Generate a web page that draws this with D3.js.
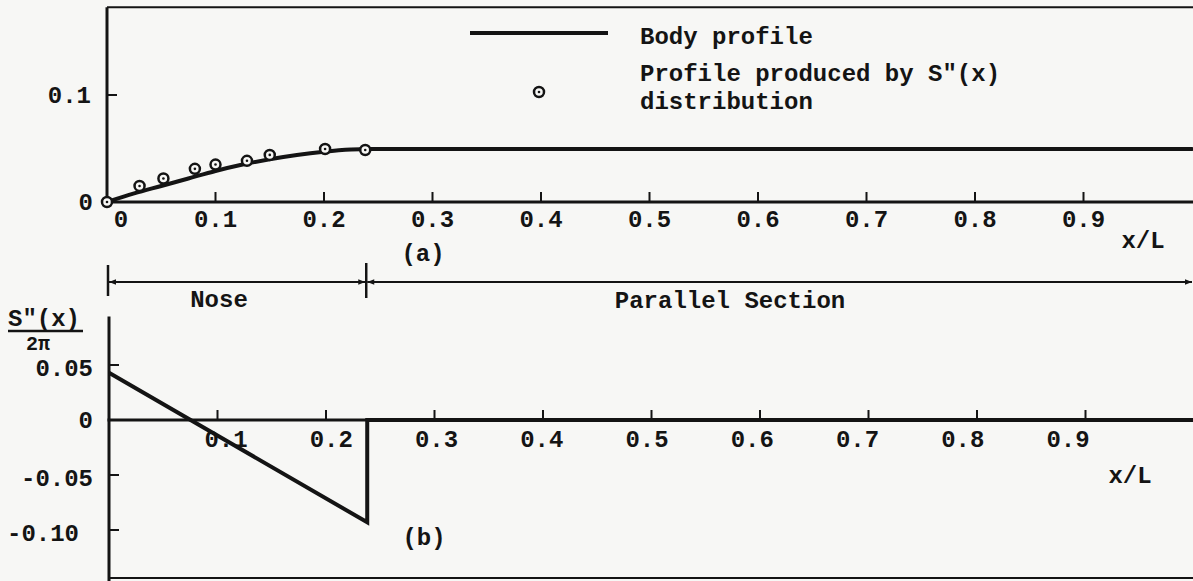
<!DOCTYPE html>
<html>
<head>
<meta charset="utf-8">
<script src="https://cdn.jsdelivr.net/npm/d3@7"></script>
<style>
  body { margin: 0; background: #f7f7f5; }
  svg { display: block; }
  text { font-family: "Liberation Mono", "DejaVu Sans Mono", monospace; font-weight: bold; fill: #141414; font-size: 24px; }
</style>
</head>
<body>
<svg id="chart" width="1193" height="581"></svg>
<script>
// body profile (a)
var bodyX = [0, 0.025, 0.05, 0.075, 0.1, 0.125, 0.15, 0.175, 0.2, 0.225, 0.24, 1.0];
var bodyY = [0, 0.008, 0.015, 0.022, 0.029, 0.035, 0.040, 0.044, 0.047, 0.049, 0.0495, 0.0495];

// profile produced by S''(x) distribution
var pointX = [0, 0.030, 0.052, 0.081, 0.100, 0.129, 0.150, 0.201, 0.238];
var pointY = [0, 0.015, 0.022, 0.031, 0.035, 0.0385, 0.044, 0.0495, 0.0486];

// S''(x)/2pi (b)
var sX = [0, 0.238, 0.238, 1.0];
var sY = [0.043, -0.093, 0, 0];

var xTicks = [0.1, 0.2, 0.3, 0.4, 0.5, 0.6, 0.7, 0.8, 0.9];
var xTickLabels = ["0.1", "0.2", "0.3", "0.4", "0.5", "0.6", "0.7", "0.8", "0.9"];
var topYTicks = [0.1];
var topYLabels = ["0.1"];
var botYTicks = [0.05, -0.05, -0.10];
var botYLabels = ["0.05", "-0.05", "-0.10"];
var noseEnd = 0.238;

var cfg = {
	width: 1193,
	height: 581,
	ink: "#141414",
	bg: "#f7f7f5",
	tick: 10
};

var svg = d3.select("#chart");

var x = d3.scaleLinear().domain([0, 1]).range([107, 1192]);
// the typed labels under panel (b) sit on a slightly shorter spacing
var xLabBot = d3.scaleLinear().domain([0.1, 0.9]).range([226, 1068]);
var yTop = d3.scaleLinear().domain([0, 0.1]).range([202, 95]);
var yBot = d3.scaleLinear().domain([0, -0.1]).range([420, 530]);
var bx = 2; // panel (b) sits 2px to the right

function hline(g, x1, x2, y, w) {
	return g.append("line")
		.attr("x1", x1).attr("x2", x2)
		.attr("y1", y).attr("y2", y)
		.attr("stroke", cfg.ink).attr("stroke-width", w);
}
function vline(g, xx, y1, y2, w) {
	return g.append("line")
		.attr("x1", xx).attr("x2", xx)
		.attr("y1", y1).attr("y2", y2)
		.attr("stroke", cfg.ink).attr("stroke-width", w);
}

// ---------- panel (a) ----------
var topG = svg.append("g");

hline(topG, x(0), cfg.width, yTop(0.182), 2);
vline(topG, x(0), yTop(0.182), yTop(0) + 1.5, 3);

topG.selectAll("text.xl")
	.data(xTicks)
	.enter().append("text")
	.attr("class", "xl")
	.attr("x", function(d) { return x(d); })
	.attr("y", yTop(0) + 25)
	.attr("text-anchor", "middle")
	.text(function(d, i) { return xTickLabels[i]; });
topG.append("text")
	.attr("x", x(0) + 14).attr("y", yTop(0) + 25)
	.attr("text-anchor", "middle")
	.text("0");

topG.selectAll("text.yl")
	.data(topYTicks)
	.enter().append("text")
	.attr("class", "yl")
	.attr("x", x(0) - 16)
	.attr("y", function(d) { return yTop(d); })
	.attr("dy", "0.35em")
	.attr("text-anchor", "end")
	.text(function(d, i) { return topYLabels[i]; });
topG.append("text")
	.attr("x", x(0) - 14).attr("y", yTop(0))
	.attr("dy", "0.35em")
	.attr("text-anchor", "end")
	.text("0");

var bodyLine = d3.line()
	.x(function(d) { return x(d[0]); })
	.y(function(d) { return yTop(d[1]); })
	.curve(d3.curveMonotoneX);

topG.append("path")
	.datum(d3.zip(bodyX, bodyY))
	.attr("d", bodyLine)
	.attr("fill", "none")
	.attr("stroke", cfg.ink)
	.attr("stroke-width", 4)
	.attr("stroke-linecap", "round");

// legend
hline(topG, 470, 608, 33, 4);
drawMarker(topG.append("g").attr("transform", "translate(539,92)"));
var legendLines = ["Body profile", "Profile produced by S\"(x)", "distribution"];
var legendBase = [44, 81, 109];
topG.selectAll("text.leg")
	.data(legendLines)
	.enter().append("text")
	.attr("class", "leg")
	.attr("x", 640)
	.attr("y", function(d, i) { return legendBase[i]; })
	.text(function(d) { return d; });

topG.append("text")
	.attr("x", 1143).attr("y", 248)
	.attr("text-anchor", "middle")
	.text("x/L");
topG.append("text")
	.attr("x", 423).attr("y", 261)
	.attr("text-anchor", "middle")
	.text("(a)");

// ---------- nose / parallel section dimension ----------
var defs = svg.append("defs");
defs.append("marker")
	.attr("id", "arr")
	.attr("viewBox", "0 0 10 10")
	.attr("refX", 10).attr("refY", 5)
	.attr("markerWidth", 11).attr("markerHeight", 7)
	.attr("markerUnits", "userSpaceOnUse")
	.attr("orient", "auto-start-reverse")
	.append("path")
	.attr("d", "M0,1 L10,5 L0,9 Z")
	.attr("fill", cfg.ink);

var dimY = 282;
var dim = svg.append("g");
vline(dim, x(0) + 1, dimY - 17, dimY + 14, 2.5);
vline(dim, x(noseEnd) + 1, dimY - 19, dimY + 16, 2.5);
hline(dim, x(0) + 2, x(noseEnd), dimY, 2)
	.attr("marker-start", "url(#arr)")
	.attr("marker-end", "url(#arr)");
hline(dim, x(noseEnd) + 2, cfg.width - 1, dimY, 2)
	.attr("marker-start", "url(#arr)")
	.attr("marker-end", "url(#arr)");
dim.append("text")
	.attr("x", 219).attr("y", dimY + 25)
	.attr("text-anchor", "middle")
	.text("Nose");
dim.append("text")
	.attr("x", 730).attr("y", dimY + 26)
	.attr("text-anchor", "middle")
	.text("Parallel Section");

// ---------- panel (b) ----------
var botG = svg.append("g").attr("transform", "translate(" + bx + ",0)");

vline(botG, x(0), yBot(0.094), 581, 3);
hline(botG, x(0), cfg.width, 578, 2);

botG.selectAll("text.xl")
	.data(xTicks)
	.enter().append("text")
	.attr("class", "xl")
	.attr("x", function(d) { return xLabBot(d) - bx; })
	.attr("y", yBot(0) + 27)
	.attr("text-anchor", "middle")
	.text(function(d, i) { return xTickLabels[i]; });

botG.selectAll("text.yl")
	.data(botYTicks)
	.enter().append("text")
	.attr("class", "yl")
	.attr("x", function(d) { return d < -0.07 ? x(0) - 30 : x(0) - 16; })
	.attr("y", function(d) { return yBot(d) + 3; })
	.attr("dy", "0.35em")
	.attr("text-anchor", "end")
	.text(function(d, i) { return botYLabels[i]; });
botG.append("text")
	.attr("x", x(0) - 16).attr("y", yBot(0))
	.attr("dy", "0.35em")
	.attr("text-anchor", "end")
	.text("0");

// y label S''(x) / 2pi
var lab = svg.append("g");
lab.append("text")
	.attr("x", 44).attr("y", 326)
	.attr("text-anchor", "middle")
	.text("S\"(x)");
hline(lab, 8, 83, 331, 2.5);
lab.append("text")
	.attr("x", 38).attr("y", 350)
	.attr("text-anchor", "middle")
	.style("font-size", "20px")
	.text("2π");

botG.append("text")
	.attr("x", 1128).attr("y", 483)
	.attr("text-anchor", "middle")
	.text("x/L");
botG.append("text")
	.attr("x", 422).attr("y", 545)
	.attr("text-anchor", "middle")
	.text("(b)");

// ---------- axes: baselines and ticks as filled rects, drawn last ----------
function drawAxisRects(y0, ys, dx) {
	// baseline
	svg.append("rect")
		.attr("x", x(0) + dx - 1.5).attr("y", y0 - 1.5)
		.attr("width", cfg.width - (x(0) + dx - 1.5)).attr("height", 3)
		.attr("fill", cfg.ink);
	// x ticks pointing up
	svg.selectAll(null)
		.data(xTicks)
		.enter().append("rect")
		.attr("x", function(d) { return x(d) + dx - 1; })
		.attr("y", y0 - cfg.tick)
		.attr("width", 2).attr("height", cfg.tick)
		.attr("fill", cfg.ink);
	// y ticks pointing right
	svg.selectAll(null)
		.data(ys)
		.enter().append("rect")
		.attr("x", x(0) + dx)
		.attr("y", function(d) { return d - 1; })
		.attr("width", cfg.tick).attr("height", 2)
		.attr("fill", cfg.ink);
}
drawAxisRects(yTop(0), topYTicks.map(function(d) { return yTop(d); }), 0);
drawAxisRects(yBot(0), botYTicks.map(function(d) { return yBot(d); }), bx);

// data marks over the axes
var sLine = d3.line()
	.x(function(d) { return x(d[0]) + bx; })
	.y(function(d) { return yBot(d[1]); });
svg.append("path")
	.datum(d3.zip(sX, sY))
	.attr("d", sLine)
	.attr("fill", "none")
	.attr("stroke", cfg.ink)
	.attr("stroke-width", 4)
	.attr("stroke-linejoin", "miter");

var pts = svg.selectAll("g.pt")
	.data(d3.zip(pointX, pointY))
	.enter().append("g")
	.attr("class", "pt")
	.attr("transform", function(d) {
		return "translate(" + x(d[0]) + "," + yTop(d[1]) + ")";
	});
drawMarker(pts);

function drawMarker(sel) {
	sel.append("circle")
		.attr("r", 5)
		.attr("fill", cfg.bg)
		.attr("stroke", cfg.ink)
		.attr("stroke-width", 2.5);
	sel.append("circle")
		.attr("r", 1.3)
		.attr("fill", cfg.ink);
}
</script>
</body>
</html>
